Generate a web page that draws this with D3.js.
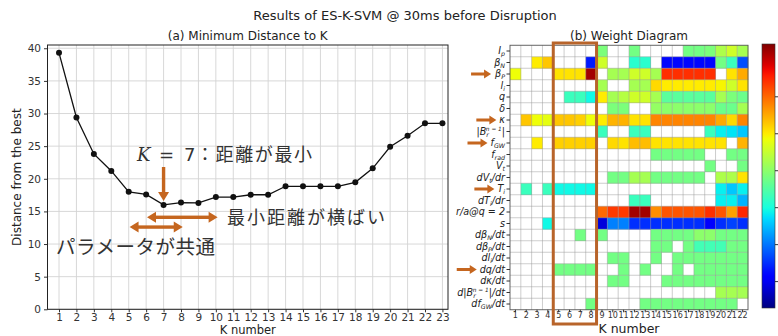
<!DOCTYPE html>
<html><head><meta charset="utf-8">
<script src="https://cdn.jsdelivr.net/npm/d3@7"></script>
<style>body{margin:0;background:#fff}</style>
</head><body>
<svg id="chart" width="778" height="336"></svg>
<script>
// ---- data: (a) minimum distance for each K ----
const kNumbers = d3.range(1, 24);
const minDistance = [39.3, 29.4, 23.8, 21.2, 18.0, 17.6, 16.0, 16.35, 16.3, 17.2, 17.2, 17.55,
  17.55, 18.85, 18.85, 18.85, 18.85, 19.45, 21.6, 24.9, 26.6, 28.5, 28.5];
const distanceTicks = [0, 5, 10, 15, 20, 25, 30, 35, 40];

// ---- data: (b) weight diagram (rows = features, columns = K) ----
const featureLabels = ["I_{p}", "β_{N}", "β_{P}", "l_{i}", "q", "δ", "κ", "|B_{r}^{n = 1}|",
  "f_{GW}", "f_{rad}", "V_{t}", "dV_{t}/dr", "T_{i}", "dT_{i}/dr", "r/a@q = 2", "s",
  "dβ_{N}/dt", "dβ_{P}/dt", "dl_{i}/dt", "dq/dt", "dκ/dt", "d|B_{r}^{n = 1}|/dt", "df_{GW}/dt"];
const weightColumns = d3.range(1, 23);
const _ = null;
const weights = [
  [_,_,_,_,_,_,_,_,.50,_,_,.49,_,_,_,_,.49,.49,.50,.56,.60,.55],
  [_,_,.66,.70,_,_,_,.15,.60,_,_,.40,.40,_,.13,.13,.13,.13,.13,.49,.42,.20],
  [.64,_,_,_,.67,.67,.67,.97,_,.55,.55,.60,.60,.55,.86,.86,.86,.86,.86,_,.67,.73],
  [_,_,_,_,_,_,_,_,.55,_,_,.55,.55,.68,.66,.66,.66,.66,.66,.65,.60,.67],
  [_,_,_,_,_,.42,.42,.37,.66,.55,.57,.60,.60,.55,.46,.46,.46,.46,.46,.55,.50,.48],
  [_,_,_,_,_,_,_,_,_,.50,.50,_,_,.53,.52,.52,.52,.52,.52,.48,.48,.55],
  [_,.70,.64,.63,.70,.70,.69,.64,.66,.72,.72,.67,.67,.77,.77,.77,.77,.77,.77,.73,.68,.77],
  [_,_,_,_,_,_,_,_,.42,_,_,.42,.42,_,_,_,_,_,.42,.36,.35,.32],
  [_,_,.66,_,.69,.69,.69,.69,_,.68,.67,.71,.71,.67,.67,.67,.67,.67,.67,.67,_,.72],
  [_,_,_,_,_,_,_,_,_,_,_,_,_,.49,.49,.49,.49,.49,_,_,.49,.49],
  [_,_,_,_,_,_,_,_,_,_,_,_,_,_,_,_,_,_,.49,_,_,.49],
  [_,_,_,_,_,_,_,_,_,.49,.49,.55,.55,.49,.49,.49,.49,.49,_,.56,.56,.67],
  [_,.42,_,.42,.37,.37,.37,.37,_,_,_,_,_,_,_,_,_,_,_,.36,.32,.36],
  [_,_,_,_,_,_,_,_,_,_,_,.42,.42,_,_,_,_,_,_,.36,.36,.30],
  [_,_,_,_,_,_,_,_,.80,.85,.85,.97,.97,.76,.82,.82,.82,.82,.86,.82,.74,.87],
  [_,_,_,.37,_,_,_,_,.08,.25,.25,.17,.17,.17,.17,.17,.17,.17,.12,.17,.19,.17],
  [_,_,_,_,_,_,.49,_,.49,_,_,_,_,.49,.49,.49,.49,.52,.52,.49,.49,.49],
  [_,_,_,_,_,_,_,_,_,_,_,_,_,.49,.49,_,.49,.43,.43,.43,.49,.49],
  [_,_,_,_,_,_,_,_,_,.49,.49,_,_,.49,_,.49,.49,.49,.49,.49,.49,.49],
  [_,_,_,_,.49,.49,.49,.49,_,_,.49,_,.49,_,_,.49,_,.49,.49,.49,.49,.49],
  [_,_,_,_,_,_,_,_,_,.49,.49,_,_,_,.49,.49,.49,.49,.49,.49,.49,.49],
  [_,_,_,_,_,_,_,_,_,_,_,_,_,_,_,_,_,_,_,.55,.55,.55],
  [_,_,_,_,_,_,_,.49,_,_,_,_,.49,.49,.49,.49,.49,.49,.49,.49,.49,_]
];
const highlightedFeatures = ["β_{P}", "κ", "f_{GW}", "T_{i}", "dq/dt"];
const highlightedK = [5, 8];
const colorbarTicks = [0.1, 0.24, 0.38, 0.52, 0.66, 0.8];

const svg = d3.select("#chart");
const FONT = "DejaVu Sans, sans-serif";
const CJK = "'Noto Sans CJK JP', sans-serif";
const ACCENT = "#c5661f";

// matplotlib-style jet colormap
const jetR = d3.scaleLinear().domain([0, .35, .66, .89, 1]).range([0, 0, 1, 1, .5]).clamp(true);
const jetG = d3.scaleLinear().domain([0, .125, .375, .64, .91, 1]).range([0, 0, 1, 1, 0, 0]).clamp(true);
const jetB = d3.scaleLinear().domain([0, .11, .34, .65, 1]).range([.5, 1, 1, 0, 0]).clamp(true);
const jet = t => d3.rgb(255 * jetR(t), 255 * jetG(t), 255 * jetB(t)).formatHex();

// titles
svg.append("text").attr("x", 405).attr("y", 20).attr("text-anchor", "middle")
  .attr("font-family", FONT).attr("font-size", 13).attr("fill", "#222")
  .text("Results of ES-K-SVM @ 30ms before Disruption");

// ================= (a) line chart =================
const x = d3.scaleLinear().domain([0.34, 23.32]).range([47.5, 448]);
const y = d3.scaleLinear().domain([0, 40.5]).range([309.3, 45]);
const a = svg.append("g");

a.append("text").attr("x", (x.range()[0] + x.range()[1]) / 2).attr("y", 40).attr("text-anchor", "middle")
  .attr("font-family", FONT).attr("font-size", 12).attr("fill", "#222").text("(a) Minimum Distance to K");

// grid
a.append("g").selectAll("line").data(kNumbers).join("line")
  .attr("x1", d => x(d)).attr("x2", d => x(d)).attr("y1", y.range()[1]).attr("y2", y.range()[0])
  .attr("stroke", "#d4d4d4").attr("stroke-width", 0.9);
a.append("g").selectAll("line").data(distanceTicks).join("line")
  .attr("x1", x.range()[0]).attr("x2", x.range()[1]).attr("y1", d => y(d)).attr("y2", d => y(d))
  .attr("stroke", "#d4d4d4").attr("stroke-width", 0.9);

// axes
const xAxis = a.append("g").attr("transform", `translate(0,${y.range()[0]})`)
  .call(d3.axisBottom(x).tickValues(kNumbers).tickSize(3).tickPadding(1.5).tickFormat(d3.format("d")));
const yAxis = a.append("g").attr("transform", `translate(${x.range()[0]},0)`)
  .call(d3.axisLeft(y).tickValues(distanceTicks).tickSize(3.5).tickPadding(3));
[xAxis, yAxis].forEach(g => {
  g.select(".domain").remove();
  g.selectAll("text").attr("font-family", FONT).attr("font-size", 10.5).attr("fill", "#333");
  g.selectAll("line").attr("stroke", "#333");
});
a.append("rect").attr("x", x.range()[0]).attr("y", y.range()[1])
  .attr("width", x.range()[1] - x.range()[0]).attr("height", y.range()[0] - y.range()[1])
  .attr("fill", "none").attr("stroke", "#222").attr("stroke-width", 1);

a.append("text").attr("x", (x.range()[0] + x.range()[1]) / 2).attr("y", 334).attr("text-anchor", "middle")
  .attr("font-family", FONT).attr("font-size", 11.5).attr("fill", "#222").text("K number");
a.append("text").attr("transform", `translate(21,${(y.range()[0] + y.range()[1]) / 2}) rotate(-90)`)
  .attr("text-anchor", "middle").attr("font-family", FONT).attr("font-size", 12).attr("fill", "#222")
  .text("Distance from the best");

// line + markers
const pts = kNumbers.map((k, i) => [k, minDistance[i]]);
a.append("path").datum(pts).attr("fill", "none").attr("stroke", "#111").attr("stroke-width", 1.3)
  .attr("d", d3.line().x(d => x(d[0])).y(d => y(d[1])));
a.append("g").selectAll("circle").data(pts).join("circle")
  .attr("cx", d => x(d[0])).attr("cy", d => y(d[1])).attr("r", 3).attr("fill", "#111");

// arrow helper (shaft + one or two heads)
function arrow(g, x1, y1, x2, y2, both, w = 3.4, hl = 9, hw = 5.5) {
  const ang = Math.atan2(y2 - y1, x2 - x1), len = Math.hypot(x2 - x1, y2 - y1);
  const grp = g.append("g").attr("transform", `translate(${x1},${y1}) rotate(${ang * 180 / Math.PI})`)
    .attr("fill", ACCENT);
  const s0 = both ? hl - 1 : 0;
  grp.append("rect").attr("x", s0).attr("y", -w / 2).attr("width", len - hl + 1 - s0).attr("height", w);
  grp.append("path").attr("d", `M${len},0 L${len - hl},${-hw} L${len - hl},${hw} Z`);
  if (both) grp.append("path").attr("d", `M0,0 L${hl},${-hw} L${hl},${hw} Z`);
}

// annotations
const ann = a.append("g");
const t1 = ann.append("text").attr("y", 161).attr("font-size", 18).attr("fill", "#333");
t1.append("tspan").attr("x", 137).attr("font-family", "DejaVu Serif, serif").attr("font-style", "italic").text("K");
t1.append("tspan").attr("x", 159).attr("font-family", FONT).text("=");
t1.append("tspan").attr("x", 184).attr("font-family", FONT).text("7");
t1.append("tspan").attr("x", 196).attr("font-family", CJK).attr("letter-spacing", 1.6).text("：距離が最小");
arrow(ann, x(7), 167, x(7), y(16.0) - 4, false);
arrow(ann, x(6.05), y(14.1), x(10.1), y(14.1), true);
arrow(ann, x(5.05), y(12.6), x(8.1), y(12.6), true);
ann.append("text").attr("x", 227).attr("y", 224).attr("font-family", CJK).attr("font-size", 18)
  .attr("letter-spacing", 2).attr("fill", "#333").text("最小距離が横ばい");
ann.append("text").attr("x", 56).attr("y", 254).attr("font-family", CJK).attr("font-size", 19.5)
  .attr("letter-spacing", 0.5).attr("fill", "#333").text("パラメータが共通");

// ================= (b) weight diagram =================
const hx = d3.scaleBand().domain(weightColumns).range([510, 748]);
const hy = d3.scaleBand().domain(featureLabels).range([45.25, 309.75]);
const b = svg.append("g");

b.append("text").attr("x", 629).attr("y", 40).attr("text-anchor", "middle")
  .attr("font-family", FONT).attr("font-size", 12).attr("fill", "#222").text("(b) Weight Diagram");

const cells = [];
weights.forEach((row, r) => row.forEach((v, c) => { if (v !== null) cells.push({ f: featureLabels[r], k: weightColumns[c], v }); }));
b.append("g").selectAll("rect").data(cells).join("rect")
  .attr("x", d => hx(d.k)).attr("y", d => hy(d.f))
  .attr("width", hx.bandwidth() + 0.3).attr("height", hy.bandwidth() + 0.3)
  .attr("fill", d => jet(d.v));

// cell grid
const grid = b.append("g").attr("stroke", "#9a9a9a").attr("stroke-width", 0.7).attr("stroke-opacity", 0.7);
grid.selectAll(".v").data(weightColumns.slice(1)).join("line")
  .attr("x1", d => hx(d)).attr("x2", d => hx(d)).attr("y1", hy.range()[0]).attr("y2", hy.range()[1]);
grid.selectAll(".h").data(featureLabels.slice(1)).join("line")
  .attr("y1", d => hy(d)).attr("y2", d => hy(d)).attr("x1", hx.range()[0]).attr("x2", hx.range()[1]);
b.append("rect").attr("x", hx.range()[0]).attr("y", hy.range()[0])
  .attr("width", hx.range()[1] - hx.range()[0]).attr("height", hy.range()[1] - hy.range()[0])
  .attr("fill", "none").attr("stroke", "#555").attr("stroke-width", 0.9);

// bottom axis
const hxAxis = b.append("g").attr("transform", `translate(0,${hy.range()[1]})`)
  .call(d3.axisBottom(hx).tickSize(2.5).tickPadding(0.5));
hxAxis.select(".domain").remove();
hxAxis.selectAll("line").attr("stroke", "#333");
hxAxis.selectAll("text").attr("font-family", FONT).attr("font-size", 8).attr("fill", "#333");
b.append("text").attr("x", 629).attr("y", 332.5).attr("text-anchor", "middle")
  .attr("font-family", FONT).attr("font-size", 12.5).attr("fill", "#222").text("K number");

// left ticks and math-style labels
b.append("g").selectAll("line").data(featureLabels).join("line")
  .attr("x1", hx.range()[0] - 3.5).attr("x2", hx.range()[0])
  .attr("y1", d => hy(d) + hy.bandwidth() / 2).attr("y2", d => hy(d) + hy.bandwidth() / 2)
  .attr("stroke", "#333");
function mathLabel(g, str, xr, yc) {
  const t = g.append("text").attr("x", xr).attr("y", yc + 3.3).attr("text-anchor", "end")
    .attr("font-family", FONT).attr("font-size", 9.6).attr("font-style", "italic").attr("fill", "#222");
  const parts = str.match(/_\{[^}]*\}|\^\{[^}]*\}|[^_^]+/g);
  let off = 0;
  parts.forEach(p => {
    if (p.startsWith("_{")) {
      t.append("tspan").attr("dy", 1.8 - off).attr("font-size", 6.3).text(p.slice(2, -1)); off = 1.8;
    } else if (p.startsWith("^{")) {
      t.append("tspan").attr("dx", off ? -3 : 0).attr("dy", -3.8 - off).attr("font-size", 5.8).text(p.slice(2, -1)); off = -3.8;
    } else {
      t.append("tspan").attr("dy", -off).text(p); off = 0;
    }
  });
  return t;
}
const labelNodes = new Map();
featureLabels.forEach(f => labelNodes.set(f, mathLabel(b, f, 505, hy(f) + hy.bandwidth() / 2)));

// highlight markers: arrows pointing at selected features, box around selected K range
highlightedFeatures.forEach(f => {
  const yc = hy(f) + hy.bandwidth() / 2;
  const left = labelNodes.get(f).node().getBBox().x;
  arrow(b, left - 23, yc, left - 3, yc, false, 3, 7, 4.5);
});
b.append("rect").attr("x", hx(highlightedK[0])).attr("y", 43)
  .attr("width", hx(highlightedK[1]) + hx.bandwidth() - hx(highlightedK[0])).attr("height", 324 - 43)
  .attr("fill", "none").attr("stroke", "#b8642a").attr("stroke-width", 3);

// colorbar
const cb = d3.scaleLinear().domain([0, 1]).range([308, 44]);
const grad = svg.append("defs").append("linearGradient").attr("id", "jetGrad")
  .attr("x1", 0).attr("y1", 1).attr("x2", 0).attr("y2", 0);
d3.range(0, 1.0001, 0.02).forEach(t => grad.append("stop").attr("offset", t).attr("stop-color", jet(t)));
svg.append("rect").attr("x", 762).attr("y", cb(1)).attr("width", 13).attr("height", cb(0) - cb(1))
  .attr("fill", "url(#jetGrad)").attr("stroke", "#333").attr("stroke-width", 0.6);
svg.append("g").selectAll("line").data(colorbarTicks).join("line")
  .attr("x1", 775).attr("x2", 778).attr("y1", d => cb(d)).attr("y2", d => cb(d)).attr("stroke", "#333");
</script>
</body></html>
